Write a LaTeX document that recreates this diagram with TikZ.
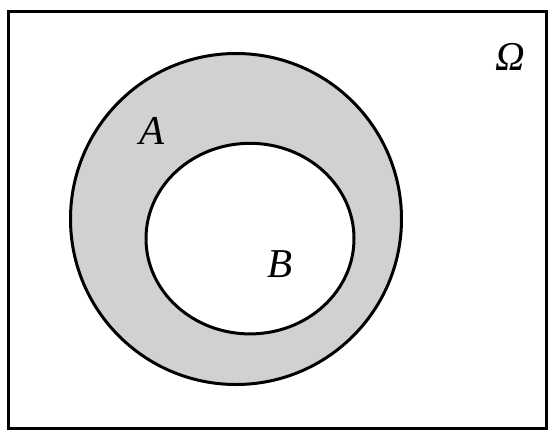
\documentclass[tikz,border=0pt]{standalone}
\usepackage{tikz}
\usepackage{fontspec}
\setmainfont{Liberation Serif}
\tikzstyle{setline} = [draw, line width=0.09cm]
\tikzstyle{setlabel} = [inner sep=0, font=\fontsize{35}{40}\selectfont\itshape]
\tikzstyle{colorA} = [fill=black!18]

\begin{document}
\begin{tikzpicture}[x=0.03cm, y=-0.03cm]
    \useasboundingbox (0,0) rectangle (554,438);
    \draw[setline] (8.5,11) rectangle (546.5,428);
    \draw[setline, colorA] (236,219) circle [radius=165.5];
    \draw[setline, fill=white] (250,238.6) ellipse [x radius=104, y radius=95.3];
    \node[setlabel] (label_omega) at (510,56.5) {Ω};
    \node[setlabel] (label_a) at (152,130.5) {A};
    \node[setlabel] (label_b) at (280.5,264.5) {B};
\end{tikzpicture}
\end{document}
